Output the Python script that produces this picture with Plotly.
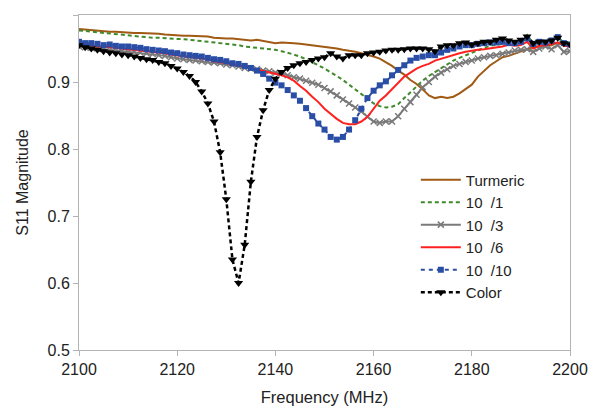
import plotly.graph_objects as go

freq = [2100 + 1.25 * i for i in range(81)]

turmeric = [0.979, 0.978, 0.977, 0.976, 0.975, 0.975, 0.975, 0.974, 0.974, 0.973,
            0.973, 0.973, 0.972, 0.972, 0.971, 0.970, 0.970, 0.969, 0.969, 0.969,
            0.969, 0.968, 0.966, 0.965, 0.965, 0.965, 0.964, 0.962, 0.962, 0.963,
            0.961, 0.959, 0.958, 0.959, 0.959, 0.958, 0.957, 0.956, 0.954, 0.953,
            0.952, 0.951, 0.950, 0.948, 0.947, 0.945, 0.943, 0.941, 0.938, 0.935,
            0.930, 0.924, 0.917, 0.911, 0.903, 0.897, 0.889, 0.880, 0.876, 0.878,
            0.876, 0.878, 0.883, 0.889, 0.896, 0.908, 0.917, 0.925, 0.931, 0.937,
            0.939, 0.942, 0.946, 0.949, 0.952, 0.953, 0.954, 0.955, 0.959, 0.955,
            0.954]

s10_1 = [0.977, 0.976, 0.975, 0.974, 0.973, 0.972, 0.971, 0.970, 0.969, 0.968,
         0.968, 0.967, 0.966, 0.966, 0.965, 0.965, 0.964, 0.964, 0.963, 0.962,
         0.961, 0.960, 0.960, 0.959, 0.958, 0.956, 0.955, 0.953, 0.952, 0.951,
         0.951, 0.949, 0.948, 0.946, 0.944, 0.941, 0.938, 0.934, 0.930, 0.925,
         0.920, 0.915, 0.909, 0.903, 0.896, 0.889, 0.881, 0.874, 0.868, 0.864,
         0.862, 0.863, 0.867, 0.876, 0.885, 0.893, 0.902, 0.909, 0.915, 0.921,
         0.927, 0.932, 0.936, 0.940, 0.944, 0.948, 0.951, 0.954, 0.956, 0.957,
         0.958, 0.959, 0.961, 0.970, 0.958, 0.960, 0.961, 0.963, 0.968, 0.958,
         0.955]

s10_3 = [0.953, 0.952, 0.951, 0.950, 0.949, 0.948, 0.947, 0.946, 0.945, 0.945,
         0.944, 0.943, 0.942, 0.940, 0.939, 0.937, 0.935, 0.934, 0.933, 0.932,
         0.931, 0.930, 0.929, 0.928, 0.926, 0.925, 0.923, 0.921, 0.920, 0.919,
         0.917, 0.916, 0.914, 0.913, 0.910, 0.907, 0.905, 0.902, 0.899, 0.896,
         0.891, 0.886, 0.880, 0.874, 0.868, 0.862, 0.856, 0.848, 0.841, 0.839,
         0.841, 0.841, 0.849, 0.860, 0.870, 0.881, 0.892, 0.900, 0.908, 0.914,
         0.919, 0.924, 0.927, 0.930, 0.932, 0.935, 0.937, 0.939, 0.940, 0.942,
         0.944, 0.947, 0.948, 0.949, 0.945, 0.950, 0.953, 0.949, 0.955, 0.945,
         0.946]

s10_6 = [0.958, 0.956, 0.954, 0.953, 0.953, 0.952, 0.951, 0.950, 0.949, 0.949,
         0.948, 0.947, 0.946, 0.945, 0.943, 0.941, 0.940, 0.938, 0.938, 0.937,
         0.936, 0.934, 0.931, 0.930, 0.929, 0.927, 0.925, 0.923, 0.921, 0.919,
         0.917, 0.915, 0.913, 0.910, 0.907, 0.902, 0.894, 0.887, 0.878, 0.870,
         0.860, 0.852, 0.845, 0.839, 0.837, 0.837, 0.841, 0.848, 0.860, 0.872,
         0.880, 0.889, 0.898, 0.908, 0.914, 0.920, 0.924, 0.927, 0.932, 0.935,
         0.938, 0.940, 0.943, 0.945, 0.947, 0.948, 0.949, 0.950, 0.952, 0.953,
         0.956, 0.954, 0.955, 0.960, 0.950, 0.954, 0.955, 0.957, 0.959, 0.954,
         0.953]

s10_10 = [0.960, 0.958, 0.958, 0.957, 0.955, 0.956, 0.954, 0.953, 0.953, 0.952,
          0.951, 0.949, 0.948, 0.947, 0.946, 0.944, 0.943, 0.941, 0.940, 0.939,
          0.938, 0.936, 0.934, 0.933, 0.931, 0.928, 0.927, 0.924, 0.921, 0.917,
          0.912, 0.905, 0.899, 0.895, 0.888, 0.880, 0.872, 0.861, 0.849, 0.838,
          0.829, 0.818, 0.814, 0.818, 0.829, 0.843, 0.860, 0.876, 0.887, 0.895,
          0.901, 0.910, 0.918, 0.925, 0.932, 0.936, 0.938, 0.940, 0.940, 0.944,
          0.948, 0.950, 0.953, 0.955, 0.955, 0.957, 0.958, 0.959, 0.959, 0.960,
          0.958, 0.958, 0.960, 0.965, 0.957, 0.960, 0.959, 0.962, 0.967, 0.958,
          0.956]

color = [0.955, 0.952, 0.950, 0.948, 0.946, 0.944, 0.943, 0.941, 0.940, 0.938,
         0.936, 0.934, 0.933, 0.930, 0.928, 0.924, 0.920, 0.915, 0.909, 0.900,
         0.886, 0.868, 0.841, 0.795, 0.725, 0.635, 0.600, 0.657, 0.751, 0.818,
         0.858, 0.888, 0.905, 0.915, 0.921, 0.925, 0.928, 0.930, 0.933, 0.935,
         0.937, 0.943, 0.938, 0.935, 0.940, 0.940, 0.940, 0.943, 0.944, 0.945,
         0.947, 0.948, 0.948, 0.949, 0.950, 0.950, 0.950, 0.949, 0.946, 0.953,
         0.955, 0.955, 0.958, 0.959, 0.956, 0.958, 0.960, 0.960, 0.963, 0.965,
         0.962, 0.960, 0.963, 0.968, 0.958, 0.960, 0.960, 0.962, 0.966, 0.958,
         0.956]

names = ["Turmeric", "10\u00a0\u00a0/1", "10\u00a0\u00a0/3", "10\u00a0\u00a0/6",
         "10\u00a0\u00a0/10", "Color"]

fig = go.Figure()
fig.add_trace(go.Scatter(x=freq, y=turmeric, name=names[0], mode="lines",
                         line=dict(color="#a05a14", width=2)))
fig.add_trace(go.Scatter(x=freq, y=s10_1, name=names[1], mode="lines",
                         line=dict(color="#3f8a2a", width=2, dash="4px,3px")))
fig.add_trace(go.Scatter(x=freq, y=s10_3, name=names[2], mode="lines+markers",
                         line=dict(color="#7a7a7a", width=2),
                         marker=dict(symbol="x-thin", size=6,
                                     line=dict(color="#7a7a7a", width=1.5))))
fig.add_trace(go.Scatter(x=freq, y=s10_6, name=names[3], mode="lines",
                         line=dict(color="#ff2020", width=2)))
fig.add_trace(go.Scatter(x=freq, y=s10_10, name=names[4], mode="lines+markers",
                         line=dict(color="#2a4ea6", width=2, dash="4px,4px"),
                         marker=dict(symbol="square", size=6, color="#2a4ea6")))
fig.add_trace(go.Scatter(x=freq, y=color, name=names[5], mode="lines+markers",
                         line=dict(color="#000000", width=2.5, dash="4px,3px"),
                         marker=dict(symbol="triangle-down", size=8, color="#000000")))

axis_common = dict(showline=True, linecolor="#b3b3b3", linewidth=1, mirror=True,
                   showgrid=False, zeroline=False, ticks="outside", ticklen=5,
                   tickcolor="#b3b3b3", tickfont=dict(size=16, color="#222222"))

fig.update_layout(
    width=598, height=411,
    margin=dict(l=71, r=36, t=7, b=69),
    paper_bgcolor="white", plot_bgcolor="white",
    font=dict(family="Liberation Sans, Arial, sans-serif", size=16, color="#222222"),
    xaxis=dict(range=[2100, 2200], dtick=20, tick0=2100,
               title=dict(text="Frequency (MHz)", font=dict(size=16.5), standoff=14),
               **axis_common),
    yaxis=dict(range=[0.5, 1.0], tickvals=[0.5, 0.6, 0.7, 0.8, 0.9, 1.0],
               ticktext=["0.5", "0.6", "0.7", "0.8", "0.9", "1"],
               title=dict(text="S11 Magnitude", font=dict(size=16), standoff=14),
               **axis_common),
    legend=dict(x=0.686, y=0.557, xanchor="left", yanchor="top",
                bgcolor="rgba(255,255,255,0)", font=dict(size=15),
                tracegroupgap=0, itemwidth=40),
    showlegend=True,
)

fig.write_html("out.html")
